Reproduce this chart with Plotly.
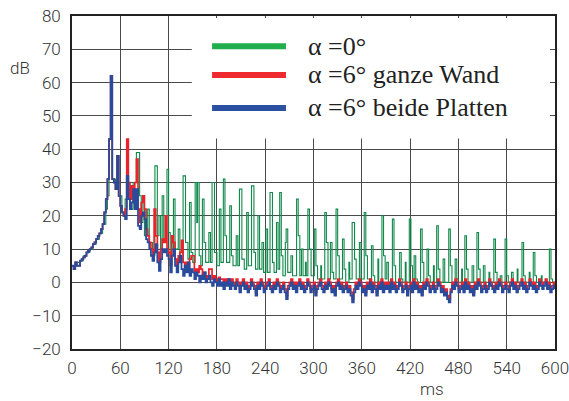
import plotly.graph_objects as go

# ---------------- data ----------------
t_ms = list(range(0, 601, 2))  # common time grid for the red and blue curves

blue_db = [
    5, 4, 6, 5, 5, 6.5, 7, 7.5, 8, 9,
    9.5, 10, 10.5, 11.5, 12, 13, 14, 14.7, 16, 17.5,
    21, 25, 31, 43, 62, 31, 30, 28, 38, 26,
    23, 21, 20, 19, 32, 25, 22, 24, 28, 22,
    28, 17, 16, 20, 21, 19, 13, 12, 10, 8,
    6.5, 9, 11.5, 6, 3.5, 7, 10, 9, 10, 8,
    7, 3, 8, 10, 5, 3, 6, 8, 4, 2,
    5, 3, 6, 2, 4, 3, 1, 3, 2, 0,
    2, 1, 3, 0, 1, 2, 0, -1, 1, 0,
    -1, 1, -1, 0, -2, 0, -1, 1, -2, 0,
    -1, -2, 0, -1, -3, -1, 0, -2, -1, -3,
    -2, 0, -1, -2, -4, -1, -2, 0, -1, -3,
    -2, -1, 0, -2, -3, -1, -2, 0, -1, -3,
    -2, -1, -3, -5, -2, -1, 0, -2, -1, -3,
    -1, 0, -2, -1, -3, -2, 0, -1, -3, -2,
    -1, -4, -2, -1, 0, -2, -3, -1, -2, 0,
    -1, -3, -2, -4, -1, 0, -2, -1, -3, -2,
    -1, -3, -2, -4, -6, -3, -1, -2, 0, -1,
    -3, -2, -4, -1, -2, 0, -3, -1, -2, -4,
    -1, -2, 0, -3, -1, -2, -1, -3, 0, -2,
    -1, -3, -2, 0, -1, -3, -2, -1, -4, -2,
    -1, -3, 0, -2, -1, -3, -2, -4, -1, -2,
    0, -1, -3, -2, -1, -3, -2, 0, -1, -3,
    -2, -4, -3, -5, -6, -3, -1, -2, 0, -1,
    -3, -2, -1, -3, 0, -2, -1, -3, -2, -4,
    -1, -2, 0, -1, -3, -2, -1, -3, -2, 0,
    -1, -2, -3, -1, -2, 0, -1, -3, -2, -1,
    -2, -3, -1, 0, -2, -1, -3, -2, -1, 0,
    -2, -1, -3, -2, 0, -1, -2, -1, -3, -2,
    0, -1, -2, -1, 0, -2, -1, -3, -2, -1,
    -2,
]

red_db = [
    5, 4, 6, 5, 5, 6.5, 7, 7.5, 8, 9,
    9.5, 10, 10.5, 11.5, 12, 13, 14, 14.7, 16, 17.5,
    21, 25, 31, 43, 62, 31, 30, 28, 38, 26,
    23, 21, 20, 22, 43, 30, 25, 29, 24, 30,
    37, 22, 18, 24, 26, 22, 16, 14, 12, 10,
    8, 22, 14, 9, 6, 10, 13, 12, 20, 10,
    9, 5, 14, 12, 7, 5, 8, 9, 12.6, 6,
    5, 6, 4, 7, 8, 8, 3, 4, 3, 5,
    4, 2, 3, 1, 2, 4, 4, 1, 2, 1,
    0, 1.5, 1, 1, -1, 1, 0, 1, -1, 1,
    0, -1, 1, 0, -2, 0, 1, -1, 0, -2,
    -1, 1, 0, -1, -3, 0, -1, 1, 0, -2,
    -1, 0, 1, -1, -2, 0, -1, 1, 0, -2,
    -1, 0, -2, -4, -1, 0, 1, -1, 0, -2,
    0, 1, -1, 0, -2, -1, 1, 0, -2, -1,
    0, -3, -1, 0, 1, -1, -2, 0, -1, 1,
    0, -2, -1, -3, 0, 1, -1, 0, -2, -1,
    0, -2, -1, -3, -5, -2, 0, -1, 1, 0,
    -2, -1, -3, 0, -1, 1, -2, 0, -1, -3,
    0, -1, 1, -2, 0, -1, 0, -2, 1, -1,
    0, -2, -1, 1, 0, -2, -1, 0, -3, -1,
    0, -2, 1, -1, 0, -2, -1, -3, 0, -1,
    1, 0, -2, -1, 0, -2, -1, 1, 0, -2,
    -1, -3, -2, -4, -5, -2, 0, -1, 1, 0,
    -2, -1, 0, -2, 1, -1, 0, -2, -1, -3,
    0, -1, 1, 0, -2, -1, 0, -2, -1, 1,
    0, -1, -2, 0, -1, 1, 0, -2, -1, 0,
    -1, -2, 0, 1, -1, 0, -2, -1, 0, 1,
    -1, 0, -2, -1, 1, 0, -1, 0, -2, -1,
    1, 0, -1, 0, 1, -1, 0, -2, -1, 0,
    -1,
]

green_t = [
    0, 4, 10, 14, 18, 22, 26, 30, 34, 38, 42, 44, 46, 48, 50, 54, 56, 58, 62, 66,
    70, 72, 76, 80, 84, 86, 88, 90, 94, 96, 100, 103, 106, 108, 110, 112, 114, 116, 118, 120,
    122, 126, 128, 132, 134, 138, 141, 144, 146, 148, 150, 153, 155, 156, 158, 160, 162, 164, 166, 170,
    172, 174, 177, 180, 183, 185, 188, 190, 192, 196, 198, 200, 204, 206, 208, 211, 214, 217, 219, 223,
    226, 228, 231, 233, 236, 238, 241, 243, 246, 249, 251, 254, 256, 258, 260, 262, 265, 266, 268, 272,
    274, 279, 281, 283, 285, 287, 290, 291, 293, 295, 297, 301, 303, 305, 309, 310, 314, 316, 318, 321,
    323, 325, 328, 330, 332, 336, 338, 340, 344, 345, 348, 351, 353, 357, 359, 363, 365, 367, 372, 374,
    376, 380, 381, 385, 387, 389, 391, 393, 398, 400, 402, 407, 409, 411, 414, 415, 419, 421, 423, 425,
    427, 429, 433, 435, 437, 441, 443, 445, 449, 450, 453, 455, 457, 461, 463, 468, 470, 472, 476, 478,
    480, 484, 485, 488, 490, 492, 497, 499, 503, 505, 507, 511, 513, 518, 519, 524, 526, 528, 532, 534,
    538, 540, 542, 546, 548, 553, 554, 559, 561, 563, 568, 569, 573, 575, 577, 583, 584, 593, 595, 597,
    600,
]
green_db = [
    5, 6, 6.5, 8, 9, 10, 11.5, 13, 14.7, 17.5, 22, 26, 43, 62, 31, 29, 38, 26, 21, 25,
    28, 22, 30, 39, 26, 18, 25, 14, 22, 12, 8, 35, 14, 20, 10, 26, 12, 20, 34, 15,
    8, 25, 10, 16, 6, 32, 12, 7, 24, 9, 6, 30, 18, 30, 8, 5, 25, 12, 6, 15,
    6, 30, 9, 5, 22, 6, 31, 14, 6, 23, 8, 5, 14, 5, 28, 7, 4, 21, 5, 29,
    9, 4, 20, 4, 12, 3, 16, 3, 27, 6, 3, 18, 4, 27, 8, 2, 12, 16, 3, 8,
    2, 25, 14, 2, 10, 2, 6, 2, 22, 10, 2, 16, 5, 1, 5, 1, 21, 12, 1, 12,
    3, 1, 22, 8, 1, 13, 4, 0, 6, 1, 18, 7, 1, 12, 1, 21, 8, 1, 11, 2,
    0, 7, 0, 20, 8, 1, 6, 0, 19, 5, 0, 9, 1, 0, 6, 0, 19, 5, 0, 8,
    1, 0, 16, 6, 0, 10, 2, 0, 5, 0, 17, 4, 0, 7, 0, 16, 5, 0, 7, 1,
    0, 4, 0, 14, 4, 0, 5, 0, 15, 4, 0, 5, 0, 3, 0, 13, 3, 0, 2, 0,
    13, 2, 0, 3, 0, 4, 0, 12, 2, 0, 3, 0, 9, 2, 0, 2, 0, 10, 1, 0,
    0,
]

y_ticks = [-20, -10, 0, 10, 20, 30, 40, 50, 60, 70, 80]
x_ticks = [0, 60, 120, 180, 240, 300, 360, 420, 480, 540, 600]

legend_labels = ["α =0°", "α =6° ganze Wand", "α =6° beide Platten"]
legend_colors = ["#1fae4b", "#ee2a2f", "#2b4fa1"]
line_colors = ["#10894a", "#e8232b", "#2a4b9c"]

assert len(blue_db) == len(t_ms) and len(red_db) == len(t_ms)
assert len(green_t) == len(green_db)

# ---------------- figure ----------------
fig = go.Figure()
fig.add_trace(go.Scatter(x=green_t, y=green_db, mode="lines", line_shape="hv",
                         line=dict(color=line_colors[0], width=1.1),
                         name=legend_labels[0], showlegend=False))
fig.add_trace(go.Scatter(x=t_ms, y=red_db, mode="lines", line_shape="hv",
                         line=dict(color=line_colors[1], width=1.7),
                         name=legend_labels[1], showlegend=False))
fig.add_trace(go.Scatter(x=t_ms, y=blue_db, mode="lines", line_shape="hv",
                         line=dict(color=line_colors[2], width=1.8),
                         name=legend_labels[2], showlegend=False))

tick_font = dict(family="Roboto", size=17, color="#333333", weight=300)
fig.update_xaxes(range=[0, 600], tickvals=x_ticks, ticktext=[str(v) for v in x_ticks],
                 showgrid=True, gridcolor="#4a4a4a", gridwidth=1.1,
                 showline=True, mirror=True, linecolor="#222222", linewidth=1.6,
                 zeroline=False, ticks="", ticklen=0, tickfont=tick_font,
                 ticklabelstandoff=3, automargin=False, ticklabeloverflow="allow")
fig.update_yaxes(range=[-20, 80], tickvals=y_ticks,
                 showgrid=True, gridcolor="#4a4a4a", gridwidth=1.1,
                 showline=True, mirror=True, linecolor="#222222", linewidth=1.6,
                 zeroline=False, ticks="", ticklen=0, tickfont=tick_font,
                 ticklabelstandoff=6, automargin=False, ticklabeloverflow="allow")

shapes = [dict(type="rect", xref="paper", yref="paper", x0=0.248, x1=0.9896,
               y0=0.632, y1=0.994, fillcolor="white", line=dict(width=0), layer="above")]
annotations = [
    dict(text="dB", xref="paper", yref="paper", x=-0.108, y=0.845,
         xanchor="center", yanchor="middle", showarrow=False,
         font=dict(family="Roboto", size=17, color="#333333", weight=300)),
    dict(text="ms", xref="paper", yref="paper", x=0.745, y=-0.119,
         xanchor="center", yanchor="middle", showarrow=False,
         font=dict(family="Roboto", size=17, color="#333333", weight=300)),
]
legend_y = [0.909, 0.823, 0.724]
for lab, col, ly in zip(legend_labels, legend_colors, legend_y):
    shapes.append(dict(type="line", xref="paper", yref="paper", x0=0.290, x1=0.443,
                       y0=ly, y1=ly, line=dict(color=col, width=6), layer="above"))
    annotations.append(dict(text=lab, xref="paper", yref="paper", x=0.484, y=ly,
                            xanchor="left", yanchor="middle", showarrow=False,
                            font=dict(family="Liberation Serif", size=26, color="#222222")))

fig.update_layout(width=569, height=401, margin=dict(l=72, r=14, t=16, b=52),
                  paper_bgcolor="white", plot_bgcolor="white",
                  shapes=shapes, annotations=annotations, showlegend=False)

# remove the default page margin so the figure sits at the window's top-left corner
fig.write_html("out.html", config={"displayModeBar": False},
               post_script="document.body.style.margin='0';document.body.style.overflow='hidden';")
